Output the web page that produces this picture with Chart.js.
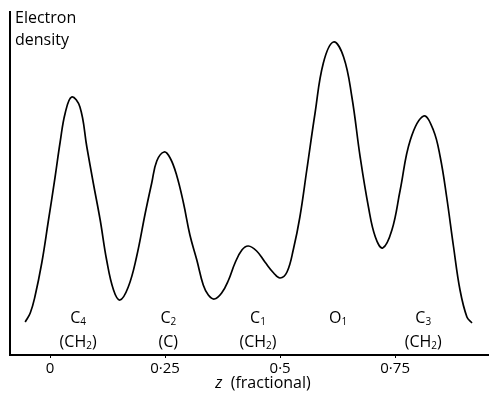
<!DOCTYPE html>
<html>
<head>
<meta charset="utf-8">
<script src="https://cdn.jsdelivr.net/npm/chart.js@4/dist/chart.umd.min.js"></script>
<style>
html,body{margin:0;padding:0;background:#fff;}
canvas{display:block;}
</style>
</head>
<body>
<canvas id="c" width="489" height="395"></canvas>
<script>
// ---- data ----
const zValues = [-0.054, -0.043, -0.033, -0.018, -0.004, 0.011, 0.022, 0.033, 0.047, 0.065, 0.080, 0.094, 0.109, 0.123, 0.138, 0.152, 0.170, 0.188, 0.207, 0.221, 0.232, 0.248, 0.261, 0.275, 0.290, 0.304, 0.319, 0.333, 0.344, 0.357, 0.373, 0.388, 0.402, 0.417, 0.431, 0.449, 0.467, 0.486, 0.500, 0.515, 0.529, 0.543, 0.558, 0.576, 0.594, 0.616, 0.638, 0.656, 0.674, 0.692, 0.707, 0.723, 0.743, 0.761, 0.783, 0.812, 0.833, 0.848, 0.862, 0.877, 0.891, 0.906, 0.917];
const density = [33, 42, 58, 92, 133, 178, 213, 242, 258, 248, 208, 172, 135, 95, 65, 55, 68, 98, 142, 172, 194, 203, 197, 180, 152, 120, 95, 70, 60, 56, 62, 75, 92, 105, 109, 104, 93, 82, 77, 83, 106, 138, 185, 242, 292, 313, 298, 258, 198, 148, 118, 107, 125, 165, 215, 239, 225, 198, 158, 108, 65, 38, 32];
const tickValues = [0, 0.25, 0.5, 0.75];
const tickLabels = ["0", "0·25", "0·5", "0·75"];
const atomNames = ["C₄", "C₂", "C₁", "O₁", "C₃"];
const atomGroups = ["(CH₂)", "(C)", "(CH₂)", "", "(CH₂)"];
const atomZ = [0.061, 0.257, 0.452, 0.626, 0.811];
const yTitle = ["Electron", "density"];
const xTitleItalic = "z";
const xTitleRest = "  (fractional)";

const FONT = "'Open Sans', 'Lato', sans-serif";

function drawWithSubs(ctx, text, cx, cy, size) {
  const segs = [];
  for (const ch of text) {
    const code = ch.codePointAt(0);
    const isSub = code >= 0x2080 && code <= 0x2089;
    const t = isSub ? String(code - 0x2080) : ch;
    if (segs.length && segs[segs.length - 1].sub === isSub) segs[segs.length - 1].t += t;
    else segs.push({t: t, sub: isSub});
  }
  const subSize = Math.round(size * 0.62);
  let total = 0;
  segs.forEach(s => {
    ctx.font = (s.sub ? subSize : size) + "px " + FONT;
    s.w = ctx.measureText(s.t).width;
    total += s.w;
  });
  let x = cx - total / 2;
  ctx.textAlign = "left";
  ctx.textBaseline = "alphabetic";
  const base = cy + size * 0.36;
  segs.forEach(s => {
    ctx.font = (s.sub ? subSize : size) + "px " + FONT;
    ctx.fillText(s.t, x, s.sub ? base + size * 0.12 : base);
    x += s.w;
  });
}

const annot = {
  id: "annot",
  afterDraw(chart) {
    const ctx = chart.ctx;
    const xs = chart.scales.x;
    const area = chart.chartArea;
    ctx.save();
    ctx.fillStyle = "#000";
    ctx.font = "16px " + FONT;
    ctx.textAlign = "left";
    ctx.textBaseline = "middle";
    ctx.fillText(yTitle[0], 15, 18);
    ctx.fillText(yTitle[1], 15, 40);
    atomNames.forEach((n, i) => {
      const px = xs.getPixelForValue(atomZ[i]);
      drawWithSubs(ctx, n, px, area.bottom - 38, 16);
      if (atomGroups[i]) drawWithSubs(ctx, atomGroups[i], px, area.bottom - 14, 16);
    });
    ctx.textBaseline = "middle";
    ctx.font = "italic 16px " + FONT;
    const w1 = ctx.measureText(xTitleItalic).width;
    ctx.font = "16px " + FONT;
    const w2 = ctx.measureText(xTitleRest).width;
    const cx = 263, cy = 383;
    let x0 = cx - (w1 + w2) / 2;
    ctx.textAlign = "left";
    ctx.font = "italic 16px " + FONT;
    ctx.fillText(xTitleItalic, x0, cy);
    ctx.font = "16px " + FONT;
    ctx.fillText(xTitleRest, x0 + w1, cy);
    ctx.restore();
  }
};

new Chart(document.getElementById("c"), {
  type: "line",
  data: {
    datasets: [{
      data: zValues.map((z, i) => ({x: z, y: density[i]})),
      borderColor: "#000",
      borderWidth: 1.7,
      pointRadius: 0,
      fill: false,
      tension: 0.4
    }]
  },
  options: {
    responsive: false,
    devicePixelRatio: 1,
    animation: false,
    layout: {padding: {left: 10, top: 12, right: 0, bottom: 15}},
    plugins: {legend: {display: false}, tooltip: {enabled: false}},
    scales: {
      x: {
        type: "linear",
        min: -0.087,
        max: 0.954,
        afterBuildTicks: s => { s.ticks = tickValues.map(v => ({value: v})); },
        ticks: {
          color: "#000",
          font: {size: 15, family: FONT},
          padding: 2,
          maxRotation: 0,
          autoSkip: false,
          callback: v => { const i = tickValues.indexOf(v); return i >= 0 ? tickLabels[i] : ""; }
        },
        grid: {display: true, drawOnChartArea: false, drawTicks: true, tickLength: 3, color: "#000", lineWidth: 1},
        border: {display: true, color: "#000", width: 2}
      },
      y: {
        min: 0,
        max: 343,
        ticks: {display: false},
        grid: {display: false, drawTicks: false},
        border: {display: true, color: "#000", width: 2}
      }
    }
  },
  plugins: [annot]
});
</script>
</body>
</html>
